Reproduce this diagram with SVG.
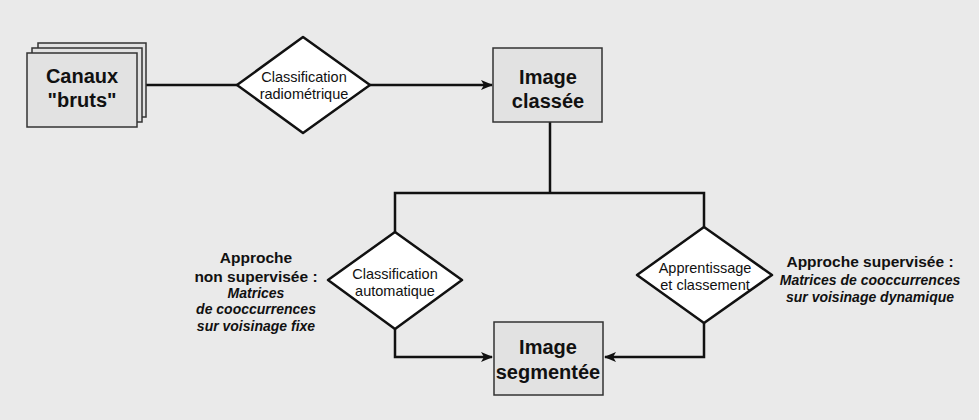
<svg xmlns="http://www.w3.org/2000/svg" width="979" height="420" viewBox="0 0 979 420">
<defs>
<marker id="arr" markerWidth="12" markerHeight="10" refX="11" refY="5" orient="auto" markerUnits="userSpaceOnUse">
<path d="M0,0 L12,5 L0,10 L3,5 Z" fill="#111"/>
</marker>
</defs>
<style>
.box{fill:#e2e2e2;stroke:#333;stroke-width:1.5}
.dia{fill:#fff;stroke:#111;stroke-width:2.5;stroke-linejoin:round}
.con{fill:none;stroke:#111;stroke-width:2.5}
.bt{font-family:"Liberation Sans",Arial,sans-serif;font-weight:bold;font-size:20px;fill:#111;text-anchor:middle}
.dt{font-family:"Liberation Sans",Arial,sans-serif;font-size:14.5px;fill:#111;text-anchor:middle}
.an{font-family:"Liberation Sans",Arial,sans-serif;font-size:14px;fill:#111;text-anchor:middle;font-weight:bold}
.h{font-size:15.5px}
.i{font-style:italic}
</style>
<rect width="979" height="420" fill="#eaeaea"/>
<g id="connectors">
<line class="con" x1="146" y1="85" x2="237" y2="85"/>
<line class="con" x1="370" y1="85" x2="492" y2="85" marker-end="url(#arr)"/>
<polyline class="con" points="550,122 550,193"/>
<polyline class="con" points="395,232 395,193 704,193 704,227"/>
<polyline class="con" points="395,329 395,357 492,357" marker-end="url(#arr)"/>
<polyline class="con" points="704,323 704,357 605,357" marker-end="url(#arr)"/>
</g>
<g id="canaux">
<rect class="box" x="38" y="43" width="108" height="74"/>
<rect class="box" x="32" y="48" width="110" height="74"/>
<rect class="box" x="27" y="53" width="110" height="74"/>
<text class="bt" x="82" y="83">Canaux</text>
<text class="bt" x="82" y="107">"bruts"</text>
</g>
<g id="classif-radio">
<polygon class="dia" points="303,37 370,85 303,133 237,85"/>
<text class="dt" x="304" y="82">Classification</text>
<text class="dt" x="304" y="99">radiométrique</text>
</g>
<g id="image-classee">
<rect class="box" x="493" y="48" width="109" height="74"/>
<text class="bt" x="548" y="84">Image</text>
<text class="bt" x="548" y="108">classée</text>
</g>
<g id="classif-auto">
<polygon class="dia" points="395,232 462,280 395,329 328,280"/>
<text class="dt" x="395" y="279">Classification</text>
<text class="dt" x="395" y="296">automatique</text>
</g>
<g id="apprentissage">
<polygon class="dia" points="704,227 772,275 704,323 637,275"/>
<text class="dt" x="705" y="273">Apprentissage</text>
<text class="dt" x="705" y="290">et classement</text>
</g>
<g id="image-segmentee">
<rect class="box" x="494" y="322" width="109" height="73"/>
<text class="bt" x="548" y="354">Image</text>
<text class="bt" x="548" y="379">segmentée</text>
</g>
<g id="annot-left">
<text class="an h" x="256" y="263">Approche</text>
<text class="an h" x="256" y="282">non supervisée :</text>
<text class="an i" x="256" y="298">Matrices</text>
<text class="an i" x="256" y="314">de cooccurrences</text>
<text class="an i" x="256" y="331">sur voisinage fixe</text>
</g>
<g id="annot-right">
<text class="an h" x="870" y="267">Approche supervisée :</text>
<text class="an i" x="870" y="285">Matrices de cooccurrences</text>
<text class="an i" x="870" y="302">sur voisinage dynamique</text>
</g>
</svg>
